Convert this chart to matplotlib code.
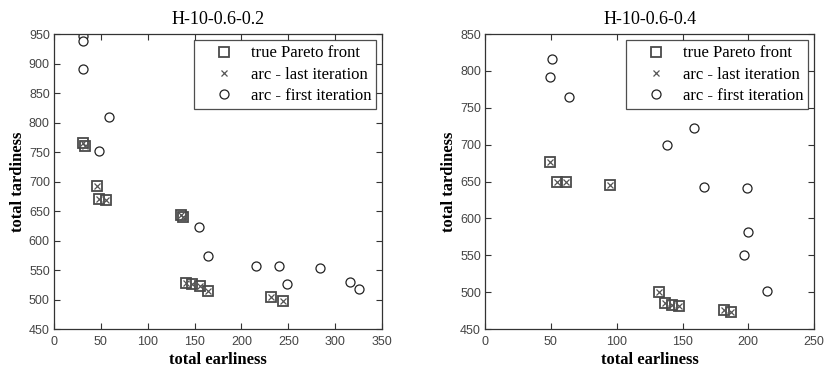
import matplotlib
matplotlib.use('Agg')
import matplotlib.pyplot as plt
import numpy as np

# H-10-0.6-0.2
left_title = 'H-10-0.6-0.2'
left_front_earl = [30.6, 33.5, 45.6, 48.1, 55.2, 135.8, 138.0, 140.5, 147.6, 156.0, 164.3, 231.5, 244.0]
left_front_tard = [765, 760, 693, 671, 668, 644, 639, 528, 526, 523, 515, 505, 497]
left_first_earl = [30.6, 30.6, 31.0, 59.0, 48.4, 154.7, 164.3, 215.0, 239.7, 248.3, 283.3, 315.8, 325.0]
left_first_tard = [947, 938, 891, 810, 751, 623, 574, 556, 556, 527, 554, 529, 517]

# H-10-0.6-0.4
right_title = 'H-10-0.6-0.4'
right_front_earl = [49.6, 55.0, 61.3, 95.2, 132.0, 136.5, 142.0, 147.7, 181.6, 187.2]
right_front_tard = [676, 650, 649, 645, 500, 485, 482, 481, 476, 473]
right_first_earl = [51.0, 49.1, 63.6, 159.0, 138.5, 166.4, 199.0, 199.8, 196.5, 214.3]
right_first_tard = [816, 792, 765, 722, 699, 642, 641, 581, 551, 501]

left_xlim, left_ylim = (0, 350), (450, 950)
right_xlim, right_ylim = (0, 250), (450, 850)

serif = ['Liberation Serif', 'DejaVu Serif']
sans = ['Liberation Sans', 'DejaVu Sans']


def panel(ax, title, fe, ft, ce, ct, xlim, ylim):
    ax.plot(fe, ft, 's', ms=7.5, mfc='none', mec='#4a4a4a', mew=1.3,
            label='true Pareto front')
    ax.plot(fe, ft, 'x', ms=4, mec='#555555', mew=0.9,
            label='arc - last iteration')
    ax.plot(ce, ct, 'o', ms=6.5, mfc='white', mec='#222222', mew=0.9,
            label='arc - first iteration')
    ax.set_xlim(*xlim)
    ax.set_ylim(*ylim)
    ax.set_xticks(np.arange(xlim[0], xlim[1] + 1, 50))
    ax.set_yticks(np.arange(ylim[0], ylim[1] + 1, 50))
    ax.set_title(title, family=serif, fontsize=13, pad=7)
    ax.set_xlabel('total earliness', family=serif, fontsize=12,
                  fontweight='bold', labelpad=3)
    ax.set_ylabel('total tardiness', family=serif, fontsize=12,
                  fontweight='bold', labelpad=2)
    ax.tick_params(direction='in', top=True, right=True, length=4,
                   width=0.8, color='#333333', labelsize=9,
                   labelcolor='#444444', pad=3)
    ax.tick_params(axis='x', pad=5)
    for lab in ax.get_xticklabels() + ax.get_yticklabels():
        lab.set_family(sans)
    for s in ax.spines.values():
        s.set_color('#333333')
        s.set_linewidth(0.9)
    leg = ax.legend(loc='upper right', bbox_to_anchor=(0.982, 0.978),
                    prop={'family': serif, 'size': 12}, frameon=True,
                    fancybox=False, edgecolor='#222222', borderpad=0.3,
                    handletextpad=0.1, labelspacing=0.32, handlelength=3.0,
                    borderaxespad=0)
    leg.get_frame().set_linewidth(0.9)


fig = plt.figure(figsize=(8.25, 3.7), dpi=100)
ax1 = fig.add_axes([0.0655, 0.1108, 0.3976, 0.7973])
ax2 = fig.add_axes([0.588, 0.1108, 0.3988, 0.7973])

panel(ax1, left_title, left_front_earl, left_front_tard,
      left_first_earl, left_first_tard, left_xlim, left_ylim)
panel(ax2, right_title, right_front_earl, right_front_tard,
      right_first_earl, right_first_tard, right_xlim, right_ylim)

fig.savefig('out.png', dpi=100)
